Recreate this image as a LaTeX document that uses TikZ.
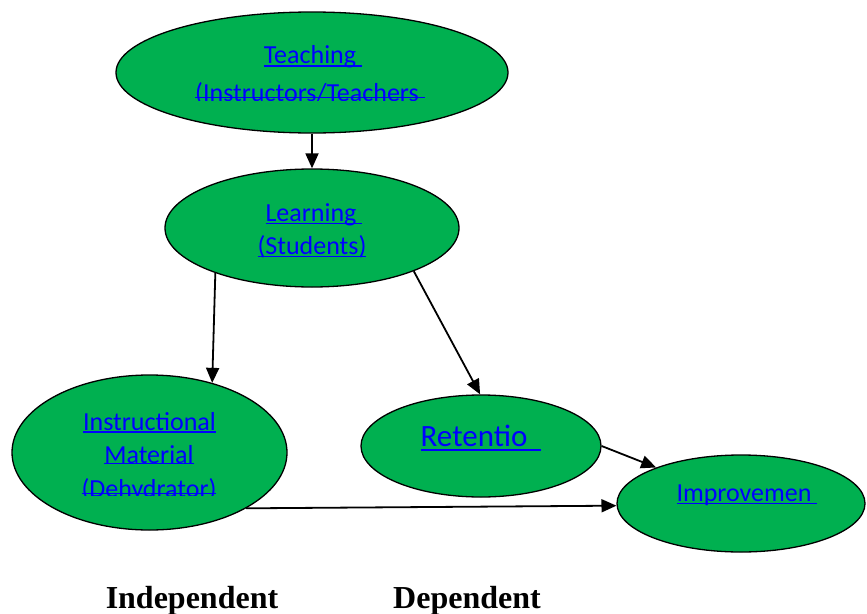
\documentclass[tikz,border=0pt]{standalone}
\usepackage{fontspec}
\setmainfont{Liberation Serif}
\newfontfamily\calfont{Carlito}
\usetikzlibrary{shapes.geometric,arrows.meta}
\definecolor{wgreen}{HTML}{00B050}
\definecolor{wblue}{HTML}{0000FF}
\newcommand\wul[3][-3.5pt]{\setbox0\hbox{#2#3}\rlap{\rule[#1]{\wd0}{1.5pt}}#2}
\tikzset{
  ell/.style={ellipse,draw=black,line width=1.3pt,fill=wgreen,inner sep=0pt},
  lbl/.style={anchor=base,inner sep=0pt,text=wblue,font=\calfont\fontsize{26}{30}\selectfont},
  biglbl/.style={lbl,font=\calfont\fontsize{31}{36}\selectfont},
  footlbl/.style={anchor=base,inner sep=0pt,font=\bfseries\fontsize{32}{36}\selectfont},
  arr/.style={line width=1.8pt,-{Triangle[length=15pt,width=13pt]}}
}
\begin{document}
\begin{tikzpicture}[x=1pt,y=-1pt]
\useasboundingbox[fill=white] (0,0) rectangle (867,613);
% ellipses
\node[ell,minimum width=392pt,minimum height=121pt] (teach) at (312,72.5) {};
\node[ell,minimum width=294pt,minimum height=118pt] (learn) at (312,228) {};
\node[ell,minimum width=275pt,minimum height=155pt] (instr) at (149.5,452.5) {};
\node[ell,minimum width=240pt,minimum height=102pt] (ret) at (481,446) {};
\node[ell,minimum width=248pt,minimum height=97pt] (impr) at (741,503.5) {};
% texts
\node[lbl] (t1) at (310,63) {\wul[-3.8pt]{Teaching}{\ }};
\begin{scope}
\clip (120,70) rectangle (510,100.5);
\node[lbl] (t2) at (307,101.5) {\wul[3.2pt]{(Instructors/Teachers}{\ }};
\end{scope}
\node[lbl] (l1) at (311,221) {\wul[-3pt]{Learning}{\ }};
\node[lbl] (l2) at (312,254) {\wul[-3.2pt]{(Students)}{}};
\node[lbl] (i1) at (149.5,430) {\wul[-2.8pt]{Instructional}{}};
\begin{scope}
\clip (20,436) rectangle (280,464.5);
\node[lbl] (i2) at (149,463.5) {\wul[-0.8pt]{Material}{}};
\end{scope}
\begin{scope}
\clip (20,470) rectangle (280,495.5);
\node[lbl] (i3) at (149,497) {\wul[3pt]{(Dehydrator)}{}};
\end{scope}
\node[biglbl] (r1) at (474,446) {\wul[-4.5pt]{Retentio}{\ \ }};
\node[lbl] (m1) at (744,501) {\wul[-3.2pt]{Improvemen}{\ }};
\node[footlbl] (c1) at (192,608) {Independent};
\node[footlbl] (c2) at (467,608) {Dependent};
% connectors
\draw[arr] (teach.270) -- (learn.90);
\draw[arr] (learn.205) -- (instr.48);
\draw[arr] (learn.337.7) -- (ret.91);
\draw[arr] (ret.east) -- (impr.157.8);
\draw[arr] (instr.330.3) -- (impr.181);
\end{tikzpicture}
\end{document}
